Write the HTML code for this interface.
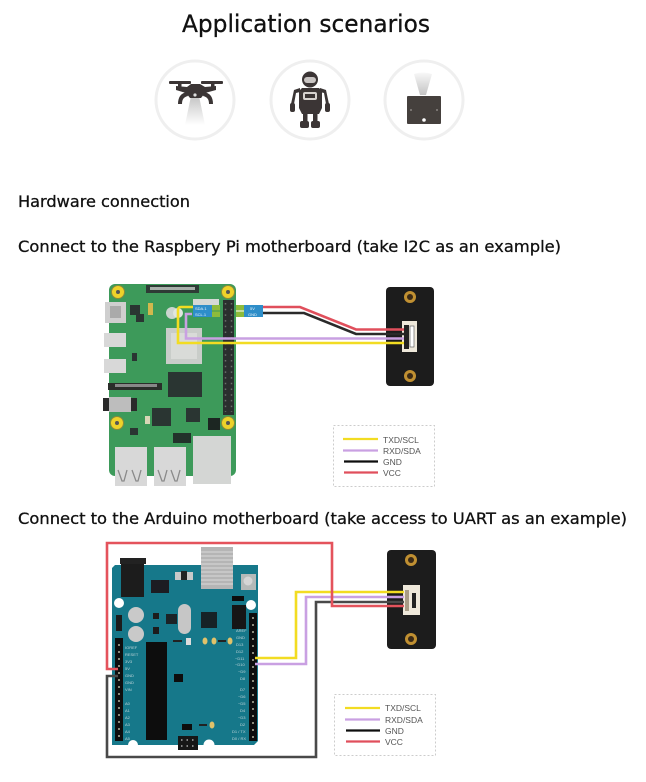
<!DOCTYPE html>
<html><head><meta charset="utf-8"><style>
html,body{margin:0;padding:0;background:#fff}
svg{display:block}
.t{font-family:"DejaVu Sans","Liberation Sans",sans-serif;fill:#111;stroke:#111;stroke-width:.3px}
.l{font-family:"Liberation Sans",sans-serif;font-size:8.5px;fill:#555}
.s{font-family:"Liberation Sans",sans-serif;font-size:4px;fill:#eaf4fb}
</style></head><body>
<svg width="646" height="782" viewBox="0 0 646 782" xmlns="http://www.w3.org/2000/svg">
<defs>
<filter id="b" x="-5%" y="-5%" width="110%" height="110%"><feGaussianBlur stdDeviation="0.3"/></filter>
<linearGradient id="beam" x1="0" y1="0" x2="0" y2="1"><stop offset="0" stop-color="#c4c4c4"/><stop offset="1" stop-color="#fff"/></linearGradient>
<linearGradient id="beam2" x1="0" y1="1" x2="0" y2="0"><stop offset="0" stop-color="#c4c4c4"/><stop offset="1" stop-color="#f8f8f8"/></linearGradient>
</defs>
<rect width="646" height="782" fill="#fff"/>
<text class="t" x="182" y="32" font-size="24" textLength="248" lengthAdjust="spacingAndGlyphs">Application scenarios</text>
<text class="t" x="18" y="207" font-size="16" textLength="172" lengthAdjust="spacingAndGlyphs">Hardware connection</text>
<text class="t" x="18" y="252" font-size="16" textLength="543" lengthAdjust="spacingAndGlyphs">Connect to the Raspbery Pi motherboard (take I2C as an example)</text>
<text class="t" x="18" y="524" font-size="16" textLength="609" lengthAdjust="spacingAndGlyphs">Connect to the Arduino motherboard (take access to UART as an example)</text>

<g filter="url(#b)">
<!-- icons -->
<g fill="#fff" stroke="#efefef" stroke-width="3"><circle cx="195" cy="100" r="39"/><circle cx="310" cy="100" r="39"/><circle cx="424" cy="100" r="39"/></g>
<!-- drone -->
<path d="M191 96h8l6 29h-20z" fill="url(#beam)"/>
<g fill="#3a3635">
<rect x="169" y="81" width="22" height="3" rx="1"/><rect x="201" y="81" width="22" height="3" rx="1"/>
<rect x="178" y="82" width="3.500" height="7"/><rect x="211" y="82" width="3.500" height="7"/>
<path d="M176 86l11 1 4-3h9l5 3 11-1v4l-11 3-4 5h-11l-4-5-10-3z"/>
<path d="M187 92c-6 1-9 5-9 12h4c0-5 2-7 6-8zM204 92c6 1 9 5 9 12h-4c0-5-2-7-6-8z"/>
</g>
<circle cx="195" cy="95" r="1.600" fill="#ddd"/>
<!-- robot -->
<g fill="#3a3635">
<circle cx="310" cy="79.500" r="8"/>
<path d="M302 88h17l3 3v17l-3 6h-17l-3-6v-17z"/>
<rect x="303" y="113" width="4.500" height="11"/><rect x="313" y="113" width="4.500" height="11"/>
<rect x="300" y="121" width="9" height="7" rx="2"/><rect x="311" y="121" width="9" height="7" rx="2"/>
<path d="M300 88l-6 2-3 14h3l2-11 4-1zM320 88l6 2 3 14h-3l-2-11-4-1z"/>
<rect x="290" y="103" width="5" height="9" rx="2"/><rect x="325" y="103" width="5" height="9" rx="2"/>
</g>
<rect x="304" y="77" width="12" height="6" rx="3" fill="#c9c5c3"/>
<rect x="303" y="92" width="14" height="8" rx="2" fill="#d6d2cf"/><rect x="305" y="94" width="10" height="4" fill="#3a3635"/>
<!-- sensor -->
<path d="M414 74q9-3 18 0l-6 21h-6z" fill="url(#beam2)"/>
<rect x="407" y="96" width="34" height="28" rx="1" fill="#45403e"/>
<circle cx="424" cy="120" r="1.800" fill="#fff"/><circle cx="411" cy="110" r="1" fill="#8a8480"/><circle cx="437" cy="110" r="1" fill="#8a8480"/>

<!-- Raspberry Pi -->
<rect x="109" y="284" width="127" height="192" rx="6" fill="#3c9a5a"/>
<rect x="146" y="285" width="53" height="8" fill="#2f3a36"/><rect x="150" y="287" width="45" height="3" fill="#a8b0aa"/>
<g fill="#eed22a" stroke="#8a8a3a" stroke-width="1"><circle cx="118" cy="292" r="6.500"/><circle cx="228" cy="292" r="6.500"/><circle cx="117" cy="423" r="6.500"/><circle cx="228" cy="423" r="6.500"/></g>
<g fill="#555"><circle cx="118" cy="292" r="2"/><circle cx="228" cy="292" r="2"/><circle cx="117" cy="423" r="2"/><circle cx="228" cy="423" r="2"/></g>
<rect x="105" y="302" width="21" height="21" fill="#cfcfcf"/><rect x="110" y="306" width="11" height="12" fill="#aaa"/>
<rect x="104" y="333" width="22" height="14" fill="#d8d8d8"/><rect x="104" y="359" width="22" height="14" fill="#d8d8d8"/>
<rect x="108" y="383" width="54" height="7" fill="#2a2f2c"/><rect x="115" y="384" width="42" height="3" fill="#888"/>
<rect x="103" y="398" width="6" height="13" fill="#2a2a2a"/><rect x="109" y="397" width="22" height="15" fill="#bdbdbd"/><rect x="131" y="398" width="6" height="13" fill="#2a2a2a"/>
<rect x="193" y="299" width="26" height="6" fill="#d5d9d5"/>
<rect x="166" y="328" width="36" height="36" fill="#c9cdc9"/><rect x="171" y="333" width="26" height="26" fill="#d9dbd8"/>
<rect x="168" y="372" width="34" height="25" fill="#2b3531"/>
<rect x="152" y="408" width="19" height="18" fill="#2b3531"/><rect x="186" y="408" width="14" height="14" fill="#2b3531"/>
<rect x="130" y="305" width="10" height="10" fill="#2b3531"/><rect x="136" y="314" width="8" height="8" fill="#2b3531"/><rect x="132" y="353" width="5" height="8" fill="#2b3531"/>
<rect x="148" y="303" width="5" height="12" fill="#d2b84e"/>
<rect x="208" y="418" width="12" height="12" fill="#1f2523"/>
<rect x="173" y="433" width="18" height="10" fill="#23302a"/>
<rect x="145" y="416" width="5" height="8" fill="#d8d6b6"/><rect x="130" y="428" width="8" height="7" fill="#2b3531"/>
<rect x="223" y="300" width="11" height="115" fill="#2b2f2d"/>
<path d="M225.500 303V412M231.500 303V412" stroke="#6b6f6c" stroke-width="1.500" stroke-dasharray="1.500 4.200"/>
<rect x="115" y="447" width="32" height="39" fill="#d8d8d8"/><rect x="154" y="447" width="32" height="39" fill="#d8d8d8"/><rect x="193" y="436" width="38" height="48" fill="#d4d6d4"/>
<path d="M118 470l4 11h2l3-11M132 470l4 11 2 0 3-11M158 470l4 11h2l3-11M171 470l4 11h2l3-11" fill="none" stroke="#8a8a8a" stroke-width="1.300"/>
<circle cx="172" cy="313" r="6" fill="#cbd5cf"/><circle cx="178" cy="313" r="5" fill="#dfe6e0"/>
<!-- labels -->
<rect x="193" y="305" width="19" height="12" fill="#2d8ec9"/>
<rect x="212" y="305" width="8" height="5.500" fill="#8dbb3a"/><rect x="212" y="311.500" width="8" height="5.500" fill="#8dbb3a"/>
<rect x="236" y="305" width="8" height="5.500" fill="#8dbb3a"/><rect x="236" y="311.500" width="8" height="5.500" fill="#8dbb3a"/>
<rect x="244" y="305" width="19" height="12" fill="#2d8ec9"/>
<text class="s" x="195" y="310">SDA.1</text><text class="s" x="195" y="316">SCL.1</text>
<text class="s" x="250" y="310">5V</text><text class="s" x="248" y="316">GND</text>
<!-- module 1 -->
<rect x="386" y="287" width="48" height="99" rx="4" fill="#1f1c1d"/>
<circle cx="410" cy="297" r="6" fill="#c09030"/><circle cx="410" cy="297" r="3" fill="#3a2a14"/>
<circle cx="410" cy="376" r="6" fill="#c09030"/><circle cx="410" cy="376" r="3" fill="#3a2a14"/>
<rect x="402" y="321" width="15" height="31" fill="#eee8da"/><rect x="404" y="325" width="5" height="24" fill="#222"/><rect x="410" y="326" width="4" height="21" fill="#fff" stroke="#666" stroke-width=".7"/>
<!-- wires -->
<g fill="none" stroke-width="2.600">
<path d="M263 307H300L356 329.500H404" stroke="#e0505c"/>
<path d="M263 313H304L356 334H404" stroke="#2b2b2b"/>
<path d="M192 314H186V338.500H404" stroke="#c9a0e2"/>
<path d="M193 307H181Q178 307 178 310V343H404" stroke="#f2dc20"/>
</g>
<!-- legend 1 -->
<rect x="333.500" y="425.500" width="101" height="61" fill="#fff" stroke="#ccc" stroke-width="1" stroke-dasharray="2 2"/>
<g stroke-width="2.200"><path d="M343 439H378" stroke="#f2dc20"/><path d="M343 450.500H378" stroke="#c9a0e2"/><path d="M344 461.500H378" stroke="#111"/><path d="M344 472.500H378" stroke="#e0505c"/></g>
<text class="l" x="383" y="443">TXD/SCL</text><text class="l" x="383" y="454">RXD/SDA</text><text class="l" x="383" y="465">GND</text><text class="l" x="383" y="476">VCC</text>

<!-- Arduino -->
<path d="M115 565H258V741L254 745H112V568Z" fill="#17788a"/>
<rect x="201" y="547" width="32" height="42" fill="#b5b5b5"/>
<path d="M201 552H233M201 556H233M201 560H233M201 564H233M201 568H233M201 572H233M201 576H233M201 580H233M201 584H233" stroke="#d2d2d2" stroke-width="1.200"/>
<rect x="120" y="558" width="26" height="6" fill="#222"/><rect x="121" y="564" width="23" height="33" fill="#1a1a1a"/>
<rect x="151" y="580" width="18" height="13" fill="#1d1f20"/>
<rect x="175" y="572" width="18" height="8" fill="#c9c9c9"/><rect x="181" y="571" width="6" height="9" fill="#222"/>
<rect x="241" y="574" width="15" height="16" fill="#b5b9b8"/><circle cx="248" cy="581" r="4.500" fill="#d5d5d5"/>
<rect x="232" y="596" width="12" height="5" fill="#111"/>
<circle cx="119" cy="603" r="5" fill="#fff"/><circle cx="251" cy="605" r="5" fill="#fff"/><circle cx="133" cy="745" r="5" fill="#fff"/><circle cx="209" cy="745" r="5.500" fill="#fff"/>
<circle cx="136" cy="615" r="8" fill="#c9c9c9"/><circle cx="136" cy="634" r="8" fill="#c9c9c9"/>
<rect x="116" y="615" width="6" height="16" fill="#1a1a1a"/>
<rect x="153" y="613" width="6" height="6" fill="#1a1a1a"/><rect x="153" y="627" width="6" height="7" fill="#1a1a1a"/>
<rect x="166" y="614" width="11" height="10" fill="#1b2325"/>
<rect x="178" y="604" width="13" height="30" rx="6.500" fill="#c6c6c6"/>
<rect x="201" y="612" width="16" height="16" fill="#172225"/>
<rect x="232" y="605" width="14" height="24" fill="#161616"/>
<g fill="#e0c26a"><ellipse cx="205" cy="641" rx="2.500" ry="3.500"/><ellipse cx="214" cy="641" rx="2.500" ry="3.500"/><ellipse cx="230" cy="641" rx="2.500" ry="3.500"/></g>
<rect x="173" y="640" width="9" height="2" fill="#222"/><rect x="186" y="638" width="5" height="7" fill="#ddd"/><rect x="218" y="640" width="8" height="2" fill="#222"/>
<rect x="146" y="642" width="21" height="98" fill="#0e0f10"/>
<rect x="174" y="674" width="9" height="8" fill="#111"/>
<rect x="182" y="724" width="10" height="6" fill="#111"/><ellipse cx="212" cy="725" rx="2.500" ry="3.500" fill="#e0c26a"/><rect x="199" y="724" width="8" height="2" fill="#222"/>
<rect x="178" y="736" width="20" height="14" fill="#141414"/>
<path d="M181 740h15M181 746h15" stroke="#aaa" stroke-width="1.500" stroke-dasharray="1.500 4"/>
<rect x="115" y="638" width="8" height="103" fill="#111"/>
<path d="M119 644V738" stroke="#8a8a7a" stroke-width="2" stroke-dasharray="2 5"/>
<rect x="249" y="613" width="8" height="128" fill="#111"/>
<path d="M253 617V738" stroke="#8a8a7a" stroke-width="2" stroke-dasharray="2 5"/>
<g font-family="Liberation Sans,sans-serif" font-size="4" fill="#bcd4d8">
<text x="125" y="649">IOREF</text><text x="125" y="656">RESET</text><text x="125" y="663">3V3</text><text x="125" y="670">5V</text><text x="125" y="677">GND</text><text x="125" y="684">GND</text><text x="125" y="691">VIN</text>
<text x="125" y="705">A0</text><text x="125" y="712">A1</text><text x="125" y="719">A2</text><text x="125" y="726">A3</text><text x="125" y="733">A4</text><text x="125" y="740">A5</text>
<text x="236" y="632">AREF</text><text x="236" y="639">GND</text><text x="236" y="646">D13</text><text x="236" y="653">D12</text><text x="235" y="660">~D11</text><text x="235" y="666">~D10</text><text x="238" y="673">~D9</text><text x="240" y="680">D8</text>
<text x="240" y="691">D7</text><text x="238" y="698">~D6</text><text x="238" y="705">~D5</text><text x="240" y="712">D4</text><text x="238" y="719">~D3</text><text x="240" y="726">D2</text><text x="232" y="733">D1 / TX</text><text x="232" y="740">D0 / RX</text>
</g>
<!-- module 2 -->
<rect x="387" y="550" width="49" height="99" rx="4" fill="#1f1c1d"/>
<circle cx="411" cy="560" r="6" fill="#c09030"/><circle cx="411" cy="560" r="3" fill="#3a2a14"/>
<circle cx="411" cy="639" r="6" fill="#c09030"/><circle cx="411" cy="639" r="3" fill="#3a2a14"/>
<rect x="403" y="585" width="17" height="30" fill="#eee8da"/><rect x="405" y="590" width="4" height="21" fill="#a89c86"/><rect x="412" y="593" width="4" height="15" fill="#222"/>
<!-- wires 2 -->
<g fill="none" stroke-width="2.600">
<path d="M255 658H296V592H404" stroke="#f2dc20"/>
<path d="M255 664H306V597H404" stroke="#c9a0e2"/>
<path d="M118 676H107V757H316V602H404" stroke="#4a4a4a"/>
<path d="M118 669H107V543H332V606H404" stroke="#e4525c"/>
</g>
<!-- legend 2 -->
<rect x="334.500" y="694.500" width="101" height="61" fill="#fff" stroke="#ccc" stroke-width="1" stroke-dasharray="2 2"/>
<g stroke-width="2.200"><path d="M345 708H380" stroke="#f2dc20"/><path d="M345 719.500H380" stroke="#c9a0e2"/><path d="M346 730.500H380" stroke="#111"/><path d="M346 741.500H380" stroke="#e0505c"/></g>
<text class="l" x="385" y="711">TXD/SCL</text><text class="l" x="385" y="723">RXD/SDA</text><text class="l" x="385" y="734">GND</text><text class="l" x="385" y="745">VCC</text>
</g>
</svg>
</body></html>
